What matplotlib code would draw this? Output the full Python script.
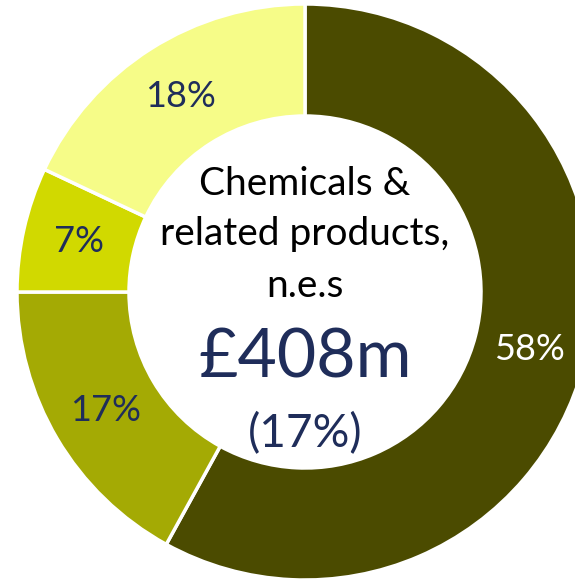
import matplotlib
matplotlib.use('Agg')
import matplotlib.pyplot as plt

shares = [58, 17, 7, 18]
colours = ['#4b4b00', '#a4aa04', '#d1d900', '#f6fc88']
label_colours = ['white', '#1f2d5a', '#1f2d5a', '#1f2d5a']
title_lines = ['Chemicals &', 'related products,', 'n.e.s']
value_text = '£408m'
share_text = '(17%)'

plt.rcParams['font.family'] = ['Lato', 'DejaVu Sans']

W, H = 575, 583
fig = plt.figure(figsize=(W / 100, H / 100), dpi=100)
ax = fig.add_axes([0, 0, 1, 1])

cx, cy = 305, H - 292
r_out, r_in = 288, 176

wedges, texts, autotexts = ax.pie(
    shares, colors=colours, startangle=90, counterclock=False,
    center=(cx, cy), radius=r_out, frame=True,
    autopct='%.0f%%', pctdistance=232 / r_out,
    wedgeprops=dict(width=r_out - r_in, edgecolor='white', linewidth=2.5),
    textprops=dict(fontsize=26))
for t, c in zip(autotexts, label_colours):
    t.set_color(c)
ax.set_xlim(0, W)
ax.set_ylim(0, H)
ax.axis('off')

# centre text, baselines in image pixels from the top
for line, yb in zip(title_lines, [195, 245, 297]):
    ax.text(cx, H - yb, line, ha='center', va='baseline', fontsize=28, color='black')
ax.text(cx, H - 378, value_text, ha='center', va='baseline', fontsize=49, color='#1f2d5a')
ax.text(cx, H - 447, share_text, ha='center', va='baseline', fontsize=33, color='#1f2d5a')

fig.savefig('out.png', dpi=100)
